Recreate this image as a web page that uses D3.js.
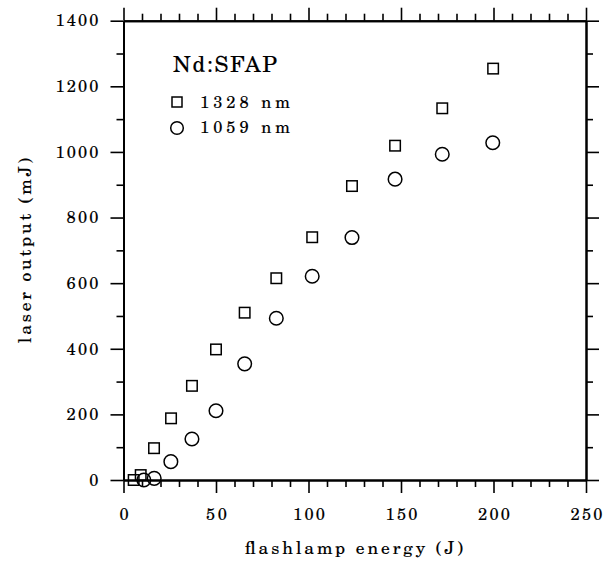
<!DOCTYPE html>
<html><head><meta charset="utf-8">
<script src="https://cdn.jsdelivr.net/npm/d3@7/dist/d3.min.js"></script>
<style>
body{margin:0;background:#fff}
text{font-family:"TeX Gyre Schola","DejaVu Serif",serif;fill:#000;stroke:#000;stroke-width:0.12px}
</style>
</head><body>
<svg id="c" width="613" height="563"></svg>
<script>
// ---- data ----
const energy1328 = [5.5, 9.3, 16.5, 25.7, 37, 50, 65.5, 82.6, 102, 123.5, 146.8, 172.3, 199.8];
const output1328 = [0, 15, 97, 188, 287, 398, 510, 615, 740, 896, 1019, 1133, 1254];
const energy1059 = [11, 16.6, 25.6, 37, 50, 65.5, 82.6, 102, 123.5, 146.8, 172.3, 199.6];
const output1059 = [0, 5, 56, 125, 211, 354, 493, 621, 739, 917, 993, 1028];
const xMajorTicks = [0, 50, 100, 150, 200, 250];
const yMajorTicks = [0, 200, 400, 600, 800, 1000, 1200, 1400];
const xMinorTicks = d3.range(0, 251, 10).filter(v => v % 50 !== 0);
const yMinorTicks = d3.range(0, 1401, 100).filter(v => v % 200 !== 0);
const xLabel = "flashlamp energy (J)";
const yLabel = "laser output (mJ)";
const legendTitle = "Nd:SFAP";
const seriesNames = ["1328 nm", "1059 nm"];

// ---- layout ----
const FONT = '"TeX Gyre Schola","DejaVu Serif",serif';
const svg = d3.select("#c");
const L = 123.5, R = 586, T = 20.7, B = 480;
const x = d3.scaleLinear().domain([0, 250]).range([L, R]);
const y = d3.scaleLinear().domain([0, 1400]).range([B, T]);

function styleAxis(g) {
  g.select(".domain").attr("stroke", "#000").attr("stroke-width", 2);
  g.selectAll(".tick line").attr("stroke", "#000").attr("stroke-width", 1.6);
  g.selectAll("text").attr("font-family", FONT).attr("font-size", 16.5).attr("fill", "#000")
    .each(function () {
      const n = this.textContent.length;
      if (n > 1) d3.select(this).attr("textLength", 11 * n - 1).attr("lengthAdjust", "spacing");
    });
}
const major = 13, minor = 7;
// bottom
svg.append("g").attr("transform", `translate(0,${B})`)
  .call(d3.axisBottom(x).tickValues(xMinorTicks).tickSize(minor).tickSizeOuter(0).tickFormat(""))
  .call(styleAxis);
svg.append("g").attr("transform", `translate(0,${B})`)
  .call(d3.axisBottom(x).tickValues(xMajorTicks).tickSize(major).tickSizeOuter(0).tickPadding(15).tickFormat(d3.format("d")))
  .call(styleAxis);
// top
svg.append("g").attr("transform", `translate(0,${T})`)
  .call(d3.axisTop(x).tickValues(xMinorTicks).tickSize(minor).tickSizeOuter(0).tickFormat(""))
  .call(styleAxis);
svg.append("g").attr("transform", `translate(0,${T})`)
  .call(d3.axisTop(x).tickValues(xMajorTicks).tickSize(major).tickSizeOuter(0).tickFormat(""))
  .call(styleAxis);
// left
svg.append("g").attr("transform", `translate(${L},0)`)
  .call(d3.axisLeft(y).tickValues(yMinorTicks).tickSize(minor).tickSizeOuter(0).tickFormat(""))
  .call(styleAxis);
svg.append("g").attr("transform", `translate(${L},0)`)
  .call(d3.axisLeft(y).tickValues(yMajorTicks).tickSize(major).tickSizeOuter(0).tickPadding(12).tickFormat(d3.format("d")))
  .call(styleAxis);
// right
svg.append("g").attr("transform", `translate(${R},0)`)
  .call(d3.axisRight(y).tickValues(yMinorTicks).tickSize(minor).tickSizeOuter(0).tickFormat(""))
  .call(styleAxis);
svg.append("g").attr("transform", `translate(${R},0)`)
  .call(d3.axisRight(y).tickValues(yMajorTicks).tickSize(major).tickSizeOuter(0).tickFormat(""))
  .call(styleAxis);

// axis labels
svg.append("text").attr("x", 354).attr("y", 554).attr("text-anchor", "middle")
  .attr("font-size", 17.5).attr("textLength", 218).attr("lengthAdjust", "spacing").text(xLabel);
svg.append("text").attr("transform", "translate(31,250.5) rotate(-90)").attr("text-anchor", "middle")
  .attr("font-size", 17.5).attr("textLength", 185).attr("lengthAdjust", "spacing").text(yLabel);

// markers
const sq = 10.5, cr = 6.8;
svg.append("g").selectAll("rect").data(energy1328.map((e, i) => [e, output1328[i]])).join("rect")
  .attr("x", d => x(d[0]) - sq / 2).attr("y", d => y(d[1]) - sq / 2)
  .attr("width", sq).attr("height", sq)
  .attr("fill", "none").attr("stroke", "#000").attr("stroke-width", 1.5);
svg.append("g").selectAll("circle").data(energy1059.map((e, i) => [e, output1059[i]])).join("circle")
  .attr("cx", d => x(d[0])).attr("cy", d => y(d[1])).attr("r", cr)
  .attr("fill", "none").attr("stroke", "#000").attr("stroke-width", 1.5);

// legend
svg.append("text").attr("x", 173).attr("y", 71.5).attr("font-size", 22)
  .attr("textLength", 104).attr("lengthAdjust", "spacing").text(legendTitle);
svg.append("rect").attr("x", 172).attr("y", 97).attr("width", 10).attr("height", 10)
  .attr("fill", "none").attr("stroke", "#000").attr("stroke-width", 1.5);
svg.append("circle").attr("cx", 177).attr("cy", 128).attr("r", 6.3)
  .attr("fill", "none").attr("stroke", "#000").attr("stroke-width", 1.5);
svg.append("text").attr("x", 200).attr("y", 108).attr("font-size", 16.5)
  .attr("textLength", 90).attr("lengthAdjust", "spacing").text(seriesNames[0]);
svg.append("text").attr("x", 200).attr("y", 133).attr("font-size", 16.5)
  .attr("textLength", 90).attr("lengthAdjust", "spacing").text(seriesNames[1]);
</script>
</body></html>
